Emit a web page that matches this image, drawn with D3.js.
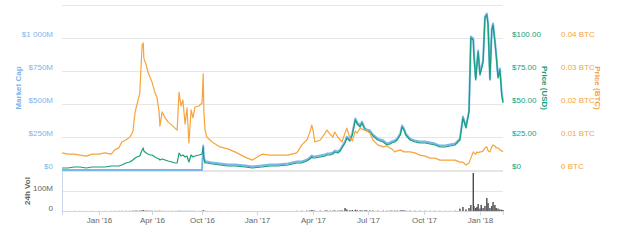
<!DOCTYPE html>
<html><head><meta charset="utf-8">
<script src="https://cdn.jsdelivr.net/npm/d3@7"></script>
<style>
body{margin:0;background:#fff}
text{font-family:"Liberation Sans",Arial,sans-serif}
</style></head>
<body><svg id="c" width="626" height="249"></svg>
<script>
const dates = ["2015-10-29","2015-11-08","2015-11-19","2015-11-29","2015-12-10","2015-12-20","2016-01-01","2016-01-11","2016-01-22","2016-01-28",
"2016-02-04","2016-02-09","2016-02-16","2016-02-23","2016-02-28","2016-03-03","2016-03-06","2016-03-11","2016-03-15","2016-03-17",
"2016-03-18","2016-03-22","2016-03-25","2016-03-29","2016-04-01","2016-04-12","2016-04-19","2016-04-27","2016-04-30","2016-05-08",
"2016-05-19","2016-05-30","2016-06-13","2016-06-24","2016-07-02","2016-07-09","2016-07-16","2016-07-23","2016-07-31","2016-08-07",
"2016-08-14","2016-08-22","2016-08-29","2016-09-05","2016-09-20","2016-10-01","2016-10-03","2016-10-04","2016-10-06","2016-10-09",
"2016-10-18","2016-10-31","2016-11-13","2016-11-25","2016-12-12","2016-12-24","2017-01-09","2017-01-22","2017-02-02","2017-02-20",
"2017-03-06","2017-03-14","2017-03-22","2017-03-27","2017-03-30","2017-04-01","2017-04-04","2017-04-13","2017-04-21","2017-04-24",
"2017-04-29","2017-05-04","2017-05-07","2017-05-12","2017-05-16","2017-05-19","2017-05-24","2017-05-27","2017-06-01","2017-06-05",
"2017-06-10","2017-06-13","2017-06-18","2017-06-21","2017-06-26","2017-06-29","2017-07-04","2017-07-09","2017-07-17","2017-07-26",
"2017-08-01","2017-08-06","2017-08-09","2017-08-14","2017-08-18","2017-08-23","2017-08-26","2017-08-29","2017-09-01","2017-09-08",
"2017-09-16","2017-09-24","2017-10-03","2017-10-11","2017-10-19","2017-10-27","2017-11-05","2017-11-13","2017-11-21","2017-11-29",
"2017-12-04","2017-12-09","2017-12-14","2017-12-17","2017-12-21","2017-12-22","2017-12-25","2017-12-27","2017-12-29","2018-01-01",
"2018-01-03","2018-01-06","2018-01-09","2018-01-12","2018-01-14","2018-01-17","2018-01-20","2018-01-22","2018-01-25","2018-01-27",
"2018-01-30","2018-02-02","2018-02-05","2018-02-07"];

// Price (USD)
const priceUsd = [1.52,1.52,2.27,2.27,1.52,2.27,2.27,2.27,3.03,3.03,
3.03,3.79,5.30,6.06,7.58,9.09,9.85,10.61,15.15,16.67,
14.39,12.88,12.12,11.36,11.36,9.85,9.09,8.33,7.58,8.33,
7.58,6.82,6.06,5.30,5.30,12.88,10.61,11.36,9.85,10.61,
6.06,11.36,9.85,10.61,11.36,12.12,17.42,9.09,5.30,5.30,
4.55,3.79,3.03,3.03,2.27,1.52,2.27,3.03,3.03,3.79,
5.30,5.30,6.82,8.33,9.85,9.09,9.09,9.85,10.61,11.36,
11.36,12.12,13.64,12.88,14.39,16.67,20.45,24.24,21.97,26.52,
37.88,34.85,32.58,35.61,30.30,29.55,28.79,25.76,22.73,21.21,
18.94,19.70,20.45,21.21,22.73,26.52,32.58,30.30,26.52,22.73,
21.21,20.45,20.45,19.70,18.94,17.42,17.42,18.18,18.94,22.73,
39.39,31.82,43.94,100.0,98.48,87.12,68.18,79.55,89.39,71.97,
75.76,81.82,115.15,117.42,109.85,68.18,106.06,109.85,96.97,87.12,
69.70,75.76,56.82,50.76];

// Price (BTC)
const priceBtc = [0.0052,0.0048,0.0048,0.0045,0.0042,0.0048,0.0048,0.0052,0.0048,0.0061,
0.0067,0.0085,0.0091,0.0100,0.0115,0.0176,0.0197,0.0233,0.0379,0.0385,
0.0339,0.0318,0.0297,0.0279,0.0267,0.0233,0.0221,0.0176,0.0133,0.0176,
0.0158,0.0145,0.0136,0.0127,0.0121,0.0236,0.0194,0.0212,0.0139,0.0188,
0.0082,0.0182,0.0158,0.0191,0.0194,0.0203,0.0291,0.0182,0.0121,0.0100,
0.0085,0.0070,0.0064,0.0055,0.0039,0.0030,0.0048,0.0045,0.0045,0.0045,
0.0052,0.0076,0.0091,0.0115,0.0136,0.0121,0.0085,0.0091,0.0112,0.0121,
0.0109,0.0100,0.0115,0.0100,0.0091,0.0085,0.0112,0.0127,0.0097,0.0088,
0.0118,0.0112,0.0127,0.0124,0.0121,0.0118,0.0112,0.0091,0.0076,0.0070,
0.0073,0.0067,0.0064,0.0055,0.0058,0.0061,0.0058,0.0055,0.0055,0.0055,
0.0052,0.0045,0.0042,0.0036,0.0036,0.0030,0.0030,0.0030,0.0030,0.0024,
0.0024,0.0015,0.0021,0.0036,0.0055,0.0052,0.0048,0.0055,0.0052,0.0055,
0.0055,0.0058,0.0067,0.0070,0.0058,0.0055,0.0070,0.0076,0.0073,0.0067,
0.0067,0.0061,0.0058,0.0055];

// Market Cap ($M)
const marketCap = [0,0,0,0,0,0,0,0,0,0,
0,0,0,0,0,0,0,0,0,0,
0,0,0,0,0,0,0,0,0,0,
0,0,0,0,0,0,0,0,0,0,
0,0,0,0,0,0,185,102,64,64,
56,49,41,41,34,26,34,41,41,49,
64,64,79,94,110,102,102,110,117,125,
125,132,147,140,155,178,216,253,231,276,
390,360,337,367,314,307,299,269,238,223,
200,208,216,223,238,276,337,314,276,238,
223,216,216,208,200,185,185,193,200,238,
405,329,450,1011,996,882,693,806,905,731,
769,829,1163,1185,1110,693,1072,1110,981,882,
708,769,579,519];

// 24h Vol ($M)
const volume = [0.5,0.4,0.6,0.5,0.4,0.5,0.5,0.6,0.5,0.7,
0.8,1,1,1.2,1.5,2,2,2.5,3,3,
2.5,2,2,1.5,1.5,1.2,1,1,1,1,
0.8,0.8,0.7,0.7,0.6,1.5,1,1,0.8,0.8,
0.7,1,0.8,0.8,0.7,0.8,3,1.5,0.8,0.6,
0.5,0.4,0.4,0.3,0.3,0.3,0.4,0.4,0.4,0.5,
1,1.5,2,3,4,3,2,2,2.5,3,
2,2,3,2,2.5,3,15,8,4,5,
6,4,3,3,4,3,3,2.5,2,2,
2,2,2,2,2,3,4,3,2,2,
1.5,1.5,1.5,1.2,1.2,1,1,1,1.5,12,
20,8,15,30,190,25,15,20,35,12,
30,15,25,65,40,15,25,45,30,15,
12,8,6,5];

const tickDates = ["2016-01-01","2016-04-01","2016-10-01","2017-01-01","2017-04-01","2017-07-01","2017-10-01","2018-01-01"];
const tickLabels = ["Jan '16","Apr '16","Oct '16","Jan '17","Apr '17","Jul '17","Oct '17","Jan '18"];
const capTicks = [0,250,500,750,1000,1250];
const capLabels = ["$0","$250M","$500M","$750M","$1 000M",""];
const usdTicks = [0,25,50,75,100];
const usdLabels = ["$0","$25.00","$50.00","$75.00","$100.00"];
const btcTicks = [0,0.01,0.02,0.03,0.04];
const btcLabels = ["0 BTC","0.01 BTC","0.02 BTC","0.03 BTC","0.04 BTC"];
const volTicks = [0,100,200];
const volLabels = ["0","100M",""];

// ordinal-like (compressed) time axis anchors
const axisAnchors = ["2015-10-29","2016-01-01","2016-04-01","2016-10-01","2017-01-01","2017-04-01","2017-07-01","2017-10-01","2018-01-01","2018-02-07"];

const parse = d3.utcParse("%Y-%m-%d");
const L = 62, R = 503, T = 5, B = 170, VT = 171, VB = 211;
const W = R - L;
const anchorRange = [0, 0.0839, 0.2041, 0.3175, 0.4422, 0.5692, 0.6939, 0.8209, 0.9478, 1].map(f => L + f * W);
const x = d3.scaleUtc().domain(axisAnchors.map(parse)).range(anchorRange);
const yCap = d3.scaleLinear().domain([0,1250]).range([B,T]);
const yUsd = d3.scaleLinear().domain([0,125]).range([B,T]);
const yBtc = d3.scaleLinear().domain([0,0.05]).range([B,T]);
const yVol = d3.scaleLinear().domain([0,200]).range([VB,VT]);

const data = dates.map((d,i)=>({date:parse(d), usd:priceUsd[i], btc:priceBtc[i], cap:marketCap[i], vol:volume[i]}));

const C_BLUE = "#7cb5ec", C_GREEN = "#17a07a", C_ORANGE = "#f7a43a", C_GRAY = "#666666";
const svg = d3.select("#c");

function styleAxis(g, color){
  g.select(".domain").remove();
  g.selectAll("text").attr("fill", color).style("font-size","8px");
}

// main grid + left labels
const gCap = svg.append("g").attr("transform",`translate(${L},0)`)
  .call(d3.axisLeft(yCap).tickValues(capTicks).tickSize(-W).tickPadding(9).tickFormat((d,i)=>capLabels[i]));
styleAxis(gCap, C_BLUE);
gCap.selectAll("line").attr("stroke","#e6e6e6");
gCap.selectAll("text").attr("y",-4);

const gUsd = svg.append("g").attr("transform",`translate(${R},0)`)
  .call(d3.axisRight(yUsd).tickValues(usdTicks).tickSize(0).tickPadding(9).tickFormat((d,i)=>usdLabels[i]));
styleAxis(gUsd, C_GREEN);
gUsd.selectAll("text").attr("y",-4);

const gBtc = svg.append("g").attr("transform",`translate(${R},0)`)
  .call(d3.axisRight(yBtc).tickValues(btcTicks).tickSize(0).tickPadding(58).tickFormat((d,i)=>btcLabels[i]));
styleAxis(gBtc, C_ORANGE);
gBtc.selectAll("text").attr("y",-4);

// volume panel grid
const gVol = svg.append("g").attr("transform",`translate(${L},0)`)
  .call(d3.axisLeft(yVol).tickValues(volTicks).tickSize(-W).tickPadding(9).tickFormat((d,i)=>volLabels[i]));
styleAxis(gVol, C_GRAY);
gVol.selectAll("line").attr("stroke","#e6e6e6");
gVol.selectAll("text").attr("y",-3);
svg.append("line").attr("x1",L+0.5).attr("x2",L+0.5).attr("y1",VT).attr("y2",VB).attr("stroke","#ccd6eb");

// x axis
const gx = svg.append("g").attr("transform",`translate(0,${VB})`)
  .call(d3.axisBottom(x).tickValues(tickDates.map(parse)).tickSize(4).tickPadding(2).tickFormat((d,i)=>tickLabels[i]));
gx.select(".domain").attr("stroke","#ccd6eb");
gx.selectAll("line").attr("stroke","#ccd6eb");
gx.selectAll("text").attr("fill",C_GRAY).style("font-size","8px");

// volume bars
svg.append("g").selectAll("rect").data(data).join("rect")
  .attr("x", d=>x(d.date)-0.7).attr("width",1.4)
  .attr("y", d=>yVol(d.vol)).attr("height", d=>VB - yVol(d.vol))
  .attr("fill","#4a4a50");

// lines
const lineCap = d3.line().x(d=>x(d.date)).y(d=>yCap(d.cap));
const lineUsd = d3.line().x(d=>x(d.date)).y(d=>yUsd(d.usd));
const lineBtc = d3.line().x(d=>x(d.date)).y(d=>yBtc(d.btc));
svg.append("path").datum(data).attr("d",lineCap).attr("fill","none").attr("stroke",C_BLUE).attr("stroke-width",2).attr("stroke-linejoin","round");
svg.append("path").datum(data).attr("d",lineUsd).attr("fill","none").attr("stroke",C_GREEN).attr("stroke-width",1.2).attr("stroke-linejoin","round");
svg.append("path").datum(data).attr("d",lineBtc).attr("fill","none").attr("stroke",C_ORANGE).attr("stroke-width",1.2).attr("stroke-linejoin","round");

// axis titles
function title(txt, cx, cy, rot, color){
  svg.append("text").attr("transform",`translate(${cx},${cy}) rotate(${rot})`)
    .attr("text-anchor","middle").attr("dy","0.35em")
    .attr("fill",color).style("font-size","8px").style("font-weight","bold").text(txt);
}
title("Market Cap", 18, 88, -90, C_BLUE);
title("24h Vol", 27, 191, -90, C_GRAY);
title("Price (USD)", 545, 88, 90, C_GREEN);
title("Price (BTC)", 598, 88, 90, C_ORANGE);
</script></body></html>
